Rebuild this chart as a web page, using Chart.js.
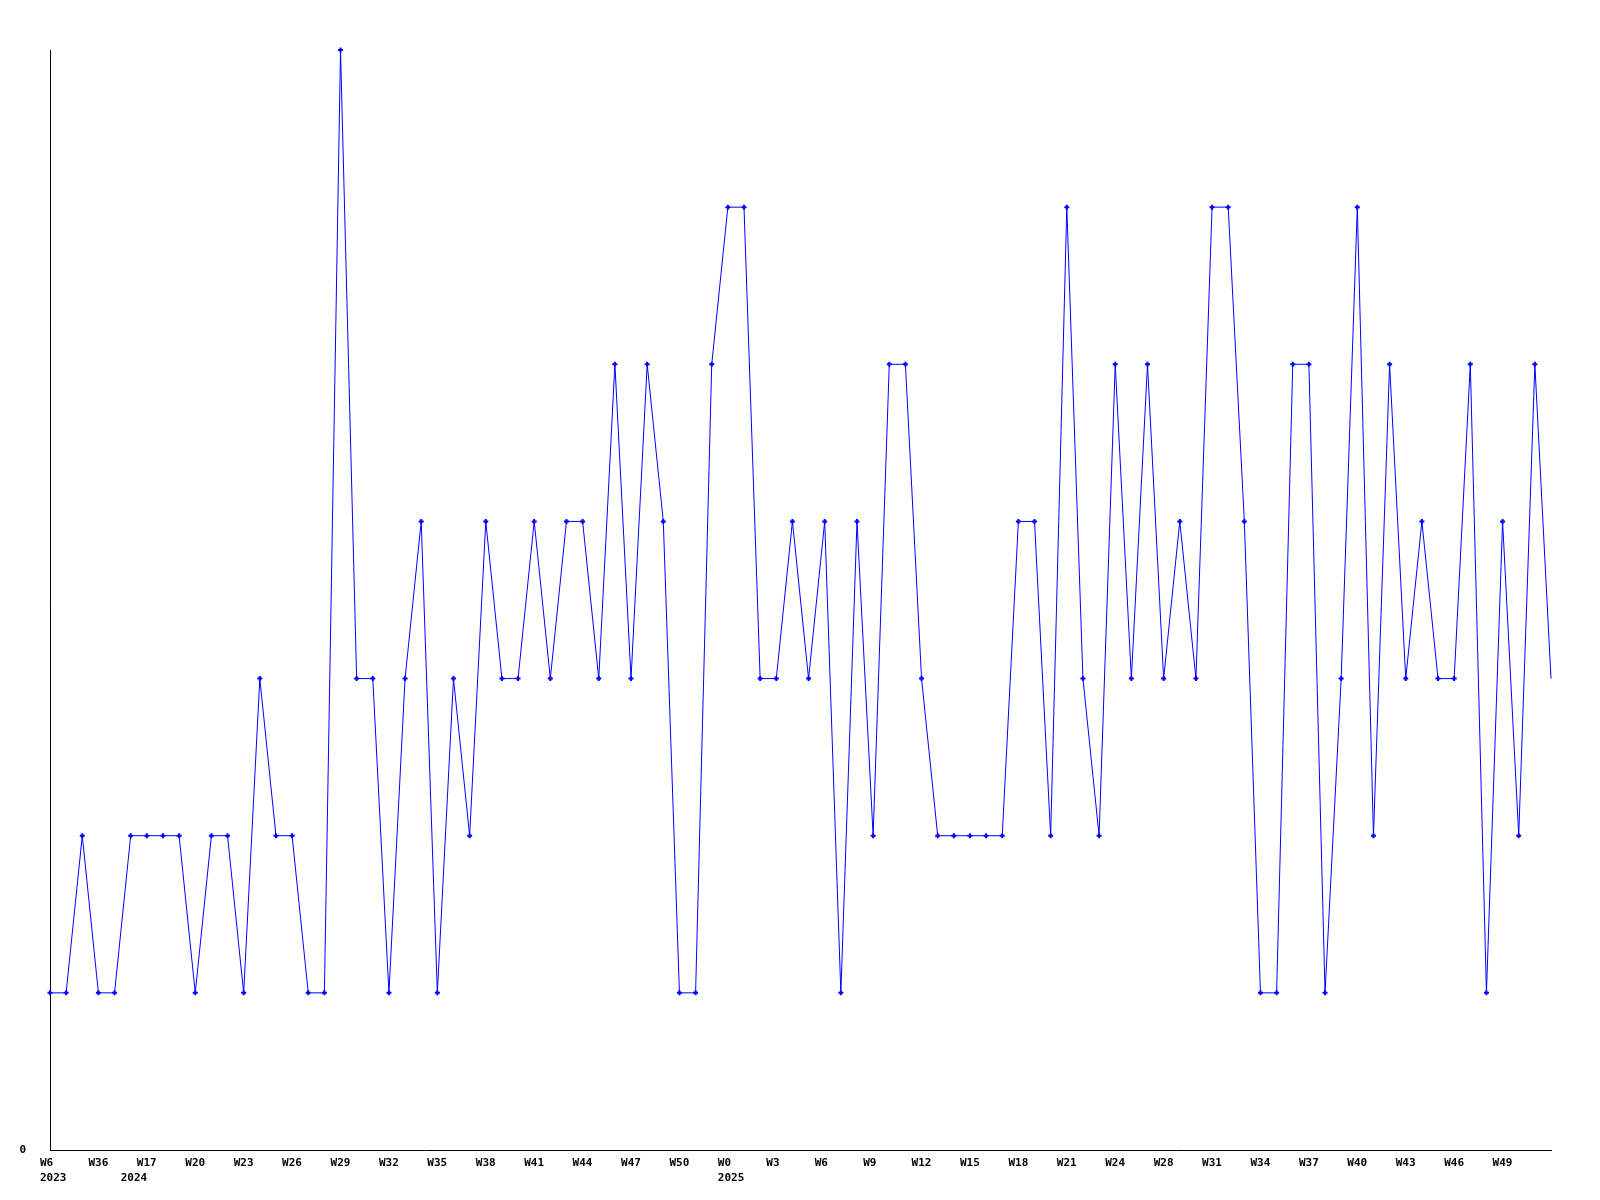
<!DOCTYPE html>
<html>
<head>
<meta charset="utf-8">
<script src="https://cdn.jsdelivr.net/npm/chart.js@4/dist/chart.umd.min.js"></script>
<style>
html,body{margin:0;padding:0;background:#fff;}
canvas{display:block;}
</style>
</head>
<body>
<canvas id="c" width="1600" height="1200"></canvas>
<script>
// Week categories (one per point)
const weeks = [
  'W6','W7','W8','W36','W37',
  'W16','W17','W18','W19','W20','W21','W22','W23','W24','W25','W26','W27','W28','W29','W30','W31','W32','W33','W34','W35','W36','W37','W38','W39','W40','W41','W42','W43','W44','W45','W46','W47','W48','W49','W50','W51','W52',
  'W0','W1','W2','W3','W4','W5','W6','W7','W8','W9','W10','W11','W12','W13','W14','W15','W16','W17','W18','W19','W20','W21','W22','W23','W24','W25','W26','W28','W29','W30','W31','W32','W33','W34','W35','W36','W37','W38','W39','W40','W41','W42','W43','W44','W45','W46','W47','W48','W49','W50','W51','W52'
];
// Year label shown under the first point of each year
const yearStarts = {0:'2023', 5:'2024', 42:'2025'};
// Indices whose week labels are shown on the axis
const shownWeekTicks = [0,3,6,9,12,15,18,21,24,27,30,33,36,39,42,45,48,51,54,57,60,63,66,69,72,75,78,81,84,87,90];
// Series values
const values = [
  1,1,2,1,1,2,2,2,2,1,2,2,1,3,2,2,1,1,7,3,3,1,3,4,1,3,2,4,3,3,
  4,3,4,4,3,5,3,5,4,1,1,5,6,6,3,3,4,3,4,1,4,2,5,5,3,2,2,2,2,2,
  4,4,2,6,3,2,5,3,5,3,4,3,6,6,4,1,1,5,5,1,3,6,2,5,3,4,3,3,5,1,
  4,2,5,3
];
const yMin = 0, yMax = 7;

const labels = weeks.map((w, i) => yearStarts[i] ? [w, yearStarts[i]] : w);

function tickText(i) {
  const wk = shownWeekTicks.includes(i) ? weeks[i] : '';
  const yr = yearStarts[i];
  if (yr) return [wk, yr];
  return wk;
}

new Chart(document.getElementById('c'), {
  type: 'line',
  data: {
    labels: labels,
    datasets: [{
      data: values,
      borderColor: '#0000ff',
      backgroundColor: '#0000ff',
      borderWidth: 1,
      tension: 0,
      fill: false,
      pointStyle: 'cross',
      pointRadius: ctx => ctx.dataIndex === values.length - 1 ? 0 : 2.5,
      pointBorderWidth: 2,
      pointBorderColor: '#0000ff',
      pointHoverRadius: 2.5,
      clip: false
    }]
  },
  options: {
    responsive: false,
    animation: false,
    events: [],
    layout: { padding: { top: 50, right: 49, left: 0, bottom: 0 } },
    plugins: { legend: { display: false }, tooltip: { enabled: false } },
    scales: {
      x: {
        type: 'category',
        offset: false,
        grid: { display: false },
        border: { display: true, color: '#000', width: 1 },
        ticks: {
          autoSkip: false,
          maxRotation: 0,
          minRotation: 0,
          align: 'start',
          labelOffset: -10,
          padding: -2,
          color: '#000',
          font: { family: 'DejaVu Sans Mono', size: 11, weight: 'bold', lineHeight: '15px' },
          callback: (v, i) => tickText(i)
        },
        afterFit: s => { s.height = 50; }
      },
      y: {
        min: yMin,
        max: yMax,
        grid: { display: false },
        border: { display: true, color: '#000', width: 1 },
        ticks: {
          stepSize: 7,
          padding: 16,
          color: '#000',
          font: { family: 'DejaVu Sans Mono', size: 11, weight: 'bold' },
          callback: v => v === 0 ? '0' : ''
        },
        afterFit: s => { s.width = 50; }
      }
    }
  }
});
</script>
</body>
</html>
